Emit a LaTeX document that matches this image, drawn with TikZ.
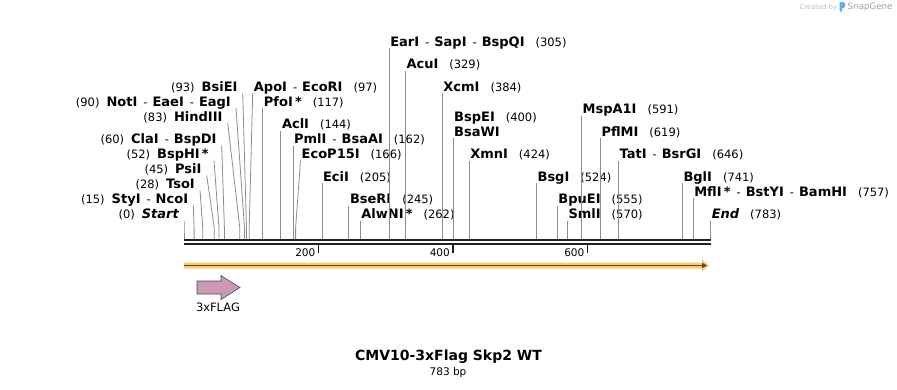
\documentclass[tikz,border=0pt]{standalone}
\usepackage{fontspec}
\setmainfont{DejaVu Sans}
\usetikzlibrary{arrows.meta}
\definecolor{cutGray}{gray}{0.55}
\definecolor{barDark}{gray}{0.13}
\definecolor{featOrange}{RGB}{250,203,112}
\definecolor{featLine}{RGB}{84,72,52}
\definecolor{flagPink}{RGB}{204,153,181}
\definecolor{logoGray}{gray}{0.74}
\definecolor{logoBlue}{RGB}{90,175,240}

\newcommand{\enzname}[1]{{\fontsize{13}{14}\selectfont\bfseries #1}}
\newcommand{\orsep}{{\mdseries\fontsize{11.5}{12}\selectfont\hspace{6pt}-\hspace{5pt}}}
\newcommand{\rcut}[2]{\enzname{#1}\hspace{11pt}(#2)}
\newcommand{\lcut}[2]{(#2)\hspace{7pt}\enzname{#1}}

\tikzset{
    cutlab/.style={inner ysep=0pt, text depth=1.5pt, font=\fontsize{11.5}{15}\selectfont},
    rlab/.style={cutlab, anchor=south west, inner xsep=1pt},
    llab/.style={cutlab, anchor=south east, inner xsep=5pt},
    cutline/.style={cutGray, line width=0.8pt},
    seqline/.style={barDark, line width=2.8pt},
    ticklab/.style={anchor=east, inner sep=0pt, font=\fontsize{10.5}{12}\selectfont}
}

\begin{document}
\begin{tikzpicture}[x=1pt,y=-1pt]
\useasboundingbox (0,0) rectangle (897,389);

% sequence bar and ruler
\coordinate (seqL) at (184,240);
\coordinate (seqR) at (711,240);
\draw[seqline] (seqL) -- (seqR);
\draw[seqline,line width=2.4pt] ([yshift=-4pt]seqL) -- ([yshift=-4pt]seqR);
\coordinate (t200) at (318.5,245);
\coordinate (t400) at (453,245);
\coordinate (t600) at (587.5,245);
\draw[barDark,line width=1.6pt] (t200) -- ++(0,8);
\draw[barDark,line width=1.6pt] (t400) -- ++(0,8);
\draw[barDark,line width=1.6pt] (t600) -- ++(0,8);
\node[ticklab] (n200) at (315.5,252.5) {200};
\node[ticklab] (n400) at (450,252.5) {400};
\node[ticklab] (n600) at (584.5,252.5) {600};

% cut sites
\coordinate (c0) at (184,239);
\coordinate (c15) at (194.1,239);
\coordinate (c28) at (202.8,239);
\coordinate (c45) at (214.3,239);
\coordinate (c52) at (219,239);
\coordinate (c60) at (224.4,239);
\coordinate (c83) at (239.8,239);
\coordinate (c90) at (244.5,239);
\coordinate (c93) at (246.5,239);
\coordinate (c97) at (249.2,239);
\coordinate (c117) at (262.7,239);
\coordinate (c144) at (280.8,239);
\coordinate (c162) at (292.9,239);
\coordinate (c166) at (295.6,239);
\coordinate (c205) at (321.9,239);
\coordinate (c245) at (348.8,239);
\coordinate (c262) at (360.2,239);
\coordinate (c305) at (389.1,239);
\coordinate (c329) at (405.3,239);
\coordinate (c384) at (442.2,239);
\coordinate (c400) at (453,239);
\coordinate (c424) at (469.1,239);
\coordinate (c524) at (536.4,239);
\coordinate (c555) at (557.2,239);
\coordinate (c570) at (567.3,239);
\coordinate (c591) at (581.4,239);
\coordinate (c619) at (600.3,239);
\coordinate (c646) at (618.4,239);
\coordinate (c741) at (682.3,239);
\coordinate (c757) at (693.1,239);
\coordinate (c783) at (710.6,239);

% labels left of their line
\node[llab] (e0) at (184,220.5) {(0)\hspace{7pt}\enzname{\itshape Start}};
\node[llab] (e15) at (193.3,205.5) {\lcut{StyI\orsep NcoI}{15}};
\node[llab] (e28) at (200,190.5) {\lcut{TsoI}{28}};
\node[llab] (e45) at (206.7,175.5) {\lcut{PsiI}{45}};
\node[llab] (e52) at (214,160.5) {\lcut{BspHI\,*}{52}};
\node[llab] (e60) at (221.7,145.5) {\lcut{ClaI\orsep BspDI}{60}};
\node[llab] (e83) at (227.7,123) {\lcut{HindIII}{83}};
\node[llab] (e90) at (236,108) {\lcut{NotI\orsep EaeI\orsep EagI}{90}};
\node[llab] (e93) at (242.7,93) {\lcut{BsiEI}{93}};

% labels right of their line
\node[rlab] (e97) at (252.7,93) {\rcut{ApoI\orsep EcoRI}{97}};
\node[rlab] (e117) at (262.7,108) {\rcut{PfoI\,*}{117}};
\node[rlab] (e144) at (280.8,130.5) {\rcut{AclI}{144}};
\node[rlab] (e162) at (292.9,145.5) {\rcut{PmlI\orsep BsaAI}{162}};
\node[rlab] (e166) at (300.5,160.5) {\rcut{EcoP15I}{166}};
\node[rlab] (e205) at (321.9,183) {\rcut{EciI}{205}};
\node[rlab] (e245) at (348.8,205.5) {\rcut{BseRI}{245}};
\node[rlab] (e262) at (360.2,220.5) {\rcut{AlwNI\,*}{262}};
\node[rlab] (e305) at (389.1,48) {\rcut{EarI\orsep SapI\orsep BspQI}{305}};
\node[rlab] (e329) at (405.3,70.5) {\rcut{AcuI}{329}};
\node[rlab] (e384) at (442.2,93) {\rcut{XcmI}{384}};
\node[rlab,align=left] (e400) at (453,138) {\rcut{BspEI}{400}\\\enzname{BsaWI}};
\node[rlab] (e424) at (469.1,160.5) {\rcut{XmnI}{424}};
\node[rlab] (e524) at (536.4,183) {\rcut{BsgI}{524}};
\node[rlab] (e555) at (557.2,205.5) {\rcut{BpuEI}{555}};
\node[rlab] (e570) at (567.3,220.5) {\rcut{SmlI}{570}};
\node[rlab] (e591) at (581.4,115.5) {\rcut{MspA1I}{591}};
\node[rlab] (e619) at (600.3,138) {\rcut{PflMI}{619}};
\node[rlab] (e646) at (618.4,160.5) {\rcut{TatI\orsep BsrGI}{646}};
\node[rlab] (e741) at (682.3,183) {\rcut{BglI}{741}};
\node[rlab] (e757) at (693.1,198) {\rcut{MflI\,*\orsep BstYI\orsep BamHI}{757}};
\node[rlab] (e783) at (710.6,220.5) {\enzname{\itshape End}\hspace{11pt}(783)};

% cut lines
\draw[cutline] (e0.south east) -- ([yshift=11pt]c0) -- (c0);
\draw[cutline] (e15.south east) -- ([yshift=11pt]c15) -- (c15);
\draw[cutline] (e28.south east) -- ([yshift=11pt]c28) -- (c28);
\draw[cutline] (e45.south east) -- ([yshift=11pt]c45) -- (c45);
\draw[cutline] (e52.south east) -- ([yshift=11pt]c52) -- (c52);
\draw[cutline] (e60.south east) -- ([yshift=11pt]c60) -- (c60);
\draw[cutline] (e83.south east) -- ([yshift=11pt]c83) -- (c83);
\draw[cutline] (e90.south east) -- ([yshift=11pt]c90) -- (c90);
\draw[cutline] (e93.south east) -- ([yshift=11pt]c93) -- (c93);
\draw[cutline] (e97.south west) -- ([yshift=11pt]c97) -- (c97);
\draw[cutline] (e117.south west) -- (c117);
\draw[cutline] (e144.south west) -- (c144);
\draw[cutline] (e162.south west) -- (c162);
\draw[cutline] (e166.south west) -- ([yshift=11pt]c166) -- (c166);
\draw[cutline] (e205.south west) -- (c205);
\draw[cutline] (e245.south west) -- (c245);
\draw[cutline] (e262.south west) -- (c262);
\draw[cutline] (e305.south west) -- (c305);
\draw[cutline] (e329.south west) -- (c329);
\draw[cutline] (e384.south west) -- (c384);
\draw[cutline] (e400.south west) -- (c400);
\draw[cutline] (e424.south west) -- (c424);
\draw[cutline] (e524.south west) -- (c524);
\draw[cutline] (e555.south west) -- (c555);
\draw[cutline] (e570.south west) -- (c570);
\draw[cutline] (e591.south west) -- (c591);
\draw[cutline] (e619.south west) -- (c619);
\draw[cutline] (e646.south west) -- (c646);
\draw[cutline] (e741.south west) -- (c741);
\draw[cutline] (e757.south west) -- (c757);
\draw[cutline] (e783.south west) -- (c783);

% features
\coordinate (featL) at (184,265.5);
\coordinate (featR) at (709,265.5);
\fill[featOrange] (184,262.5) -- (702,262.5) -- (702,259.5) -- (featR) -- (702,271.5) -- (702,268.5) -- (184,268.5) -- cycle;
\draw[featLine,line width=1.5pt,-{Triangle[length=5pt,width=5pt]}] (featL) -- ([xshift=-2pt]featR);
\draw[fill=flagPink,draw=gray!60!black,line width=0.6pt] (197,281) -- (221,281) -- (221,275.5) -- (240,287.5) -- (221,299.5) -- (221,294) -- (197,294) -- cycle;
\node[font=\fontsize{11.5}{13}\selectfont] (flagLab) at (218,307.5) {3xFLAG};

% title
\node[font=\fontsize{14}{16}\selectfont\bfseries] (title) at (448.5,357) {CMV10-3xFlag Skp2 WT};
\node[font=\fontsize{10.5}{12}\selectfont] (size) at (448,373) {783 bp};

% watermark
\node[anchor=east,inner sep=0pt,text=logoGray,font=\fontsize{6.7}{8}\selectfont] (made) at (837,7.5) {Created by};
\fill[logoBlue] (839.5,2) -- (843,2) .. controls (846,2) and (846,8) .. (843,8) -- (842,8) -- (842,11.5) -- (839.5,11.5) -- cycle;
\node[anchor=west,inner sep=0pt,text=gray!75,font=\fontsize{8.7}{10}\selectfont] (brand) at (847.5,7.5) {SnapGene};
\end{tikzpicture}
\end{document}
